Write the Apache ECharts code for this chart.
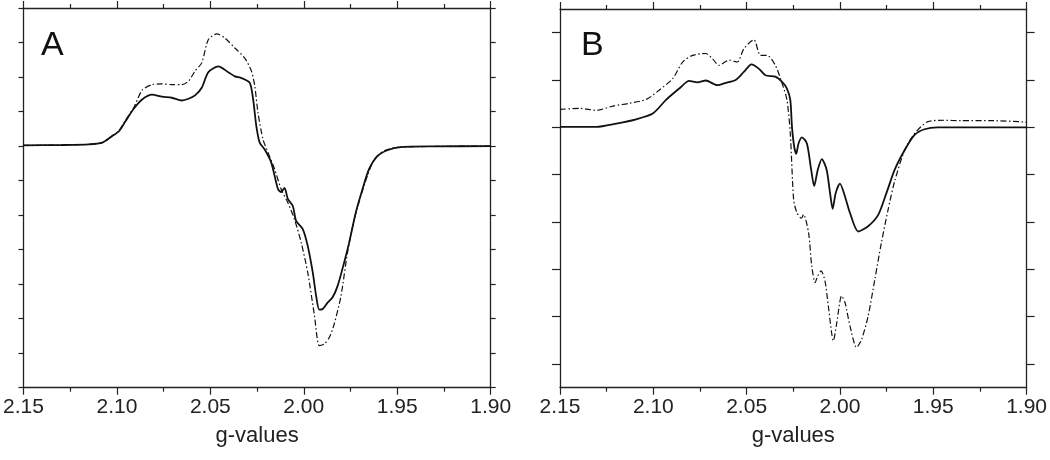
<!DOCTYPE html>
<html>
<head>
<meta charset="utf-8">
<script src="https://cdn.jsdelivr.net/npm/echarts@6/dist/echarts.min.js"></script>
<style>
  html, body { margin: 0; padding: 0; background: #fff; }
  #chart { width: 1050px; height: 460px; }
</style>
</head>
<body>
<div id="chart"></div>
<script>
// ---------- Data (g-value, signal in arbitrary units) ----------
const panelLabels = ['A', 'B'];
const xTickValues = [2.15, 2.10, 2.05, 2.00, 1.95, 1.90];
const xAxisName = 'g-values';

// Panel A, solid trace
const gA1 = [2.15, 2.13, 2.115, 2.1078, 2.1025, 2.0989, 2.0954, 2.091, 2.0865, 2.0812, 2.0759, 2.0706, 2.0652, 2.0617, 2.0582, 2.0546, 2.0511, 2.0457, 2.0404, 2.0369, 2.0333, 2.0289, 2.0271, 2.0254, 2.0236, 2.0209, 2.0174, 2.0138, 2.0121, 2.0103, 2.0085, 2.0059, 2.0041, 2.0005, 1.9979, 1.9952, 1.9934, 1.9917, 1.9899, 1.9872, 1.9846, 1.9819, 1.9784, 1.9757, 1.9722, 1.9686, 1.9651, 1.9606, 1.9553, 1.9482, 1.9305, 1.90];
const vA1 = [0.02, 0.03, 0.05, 0.10, 0.29, 0.43, 0.72, 1.08, 1.35, 1.49, 1.43, 1.40, 1.32, 1.37, 1.47, 1.69, 2.14, 2.31, 2.14, 2.02, 1.97, 1.83, 1.35, 0.58, 0.10, -0.10, -0.48, -1.25, -1.33, -1.21, -1.54, -1.73, -2.17, -2.41, -2.89, -3.66, -4.34, -4.74, -4.72, -4.53, -4.38, -4.05, -3.37, -2.79, -1.93, -1.25, -0.67, -0.29, -0.12, -0.03, -0.01, 0.0];

// Panel A, dash-dot trace
const gA2 = [2.15, 2.13, 2.115, 2.1078, 2.1025, 2.0989, 2.0954, 2.091, 2.0865, 2.0812, 2.0759, 2.0706, 2.0652, 2.0617, 2.0582, 2.0546, 2.0511, 2.0466, 2.0422, 2.0369, 2.0316, 2.028, 2.0262, 2.0245, 2.0218, 2.0191, 2.0156, 2.0121, 2.0085, 2.005, 2.0014, 1.9979, 1.9943, 1.9917, 1.989, 1.9863, 1.9837, 1.9801, 1.9766, 1.973, 1.9695, 1.966, 1.9624, 1.9571, 1.95, 1.93, 1.90];
const vA2 = [0.02, 0.03, 0.05, 0.10, 0.30, 0.45, 0.75, 1.11, 1.62, 1.78, 1.80, 1.78, 1.78, 1.88, 2.17, 2.41, 3.08, 3.25, 3.13, 2.84, 2.55, 2.17, 1.73, 0.96, 0.19, -0.19, -0.67, -1.25, -1.64, -2.12, -2.79, -3.66, -4.91, -5.78, -5.73, -5.54, -5.15, -4.34, -3.08, -2.12, -1.45, -0.87, -0.39, -0.14, -0.04, -0.01, 0.0];

// Panel B, solid trace
const gB1 = [2.15, 2.1305, 2.1198, 2.1092, 2.1003, 2.0932, 2.0861, 2.0808, 2.0763, 2.0719, 2.0657, 2.0612, 2.0559, 2.0515, 2.0474, 2.0435, 2.0399, 2.0346, 2.031, 2.0284, 2.0266, 2.0257, 2.0245, 2.0234, 2.0222, 2.0204, 2.0177, 2.0154, 2.0138, 2.0119, 2.0097, 2.0071, 2.0053, 2.0039, 2.0023, 2.0, 1.9973, 1.9946, 1.9902, 1.9849, 1.9795, 1.9751, 1.9707, 1.9653, 1.96, 1.9547, 1.9476, 1.90];
const vB1 = [0.01, 0.01, 0.08, 0.17, 0.29, 0.58, 0.82, 0.98, 0.95, 0.99, 0.89, 0.94, 1.00, 1.17, 1.33, 1.24, 1.10, 1.07, 0.96, 0.82, 0.58, 0.01, -0.41, -0.56, -0.34, -0.21, -0.34, -0.90, -1.24, -0.90, -0.67, -0.90, -1.39, -1.72, -1.39, -1.19, -1.46, -1.81, -2.20, -2.09, -1.85, -1.39, -0.90, -0.48, -0.16, -0.04, 0.0, 0.0];

// Panel B, dash-dot trace
const gB2 = [2.15, 2.1393, 2.1305, 2.1216, 2.1127, 2.1038, 2.0967, 2.0896, 2.0843, 2.079, 2.0719, 2.0683, 2.0648, 2.0594, 2.055, 2.0515, 2.0461, 2.0426, 2.039, 2.0346, 2.031, 2.0284, 2.0266, 2.0248, 2.023, 2.0207, 2.0195, 2.0168, 2.0151, 2.0133, 2.0119, 2.0101, 2.008, 2.0062, 2.0035, 2.0017, 1.9991, 1.9973, 1.9946, 1.9911, 1.9884, 1.9849, 1.9813, 1.9778, 1.9742, 1.9707, 1.9653, 1.96, 1.9529, 1.944, 1.9352, 1.9174, 1.90];
const vB2 = [0.38, 0.40, 0.36, 0.45, 0.51, 0.59, 0.79, 1.03, 1.38, 1.52, 1.56, 1.45, 1.31, 1.42, 1.38, 1.66, 1.85, 1.52, 1.52, 1.31, 0.93, 0.58, -0.13, -1.53, -1.81, -1.92, -1.84, -2.23, -2.93, -3.28, -3.14, -3.03, -3.25, -3.78, -4.51, -4.13, -3.56, -3.70, -4.20, -4.65, -4.48, -3.99, -3.21, -2.44, -1.74, -1.14, -0.48, -0.13, 0.12, 0.15, 0.14, 0.14, 0.11];

// y ranges and tick positions (arbitrary units)
const yRangeA = [-7, 4];
const yTicksA = [-7, -6, -5, -4, -3, -2, -1, 0, 1, 2, 3, 4];
const yRangeB = [-5.5, 2.5];
const yTicksB = [-5, -4, -3, -2, -1, 0, 1, 2];

// ---------- Chart ----------
const zip = (xs, ys) => xs.map((x, i) => [x, ys[i]]);
const axisColor = '#222';
const lineColor = '#111';
const fontFam = 'Liberation Sans, Arial, sans-serif';

const grids = [
  { left: 20.7, right: 559.3, top: 8, bottom: 72.3 },
  { left: 560, right: 20.7, top: 9, bottom: 72.3 }
];

function xAxes(gi) {
  const base = {
    type: 'value', gridIndex: gi, min: 1.90, max: 2.15, interval: 0.05, inverse: true,
    axisLine: { show: true, onZero: false, lineStyle: { color: axisColor, width: 1.3 } },
    axisTick: { show: true, length: 7, lineStyle: { color: axisColor, width: 1.2 } },
    minorTick: { show: true, splitNumber: 2, length: 4, lineStyle: { color: axisColor, width: 1.2 } },
    splitLine: { show: false }, minorSplitLine: { show: false }
  };
  return [
    Object.assign({}, base, {
      position: 'bottom',
      name: xAxisName, nameLocation: 'middle', nameGap: 37,
      nameTextStyle: { fontSize: 22, color: axisColor, fontFamily: fontFam },
      axisLabel: { show: true, margin: 9, fontSize: 21, color: axisColor, fontFamily: fontFam,
        formatter: v => v.toFixed(2), showMinLabel: true, showMaxLabel: true, hideOverlap: false }
    }),
    Object.assign({}, base, { position: 'top', axisLabel: { show: false } })
  ];
}

function yAxes(gi, range, ticks, len) {
  const base = {
    type: 'value', gridIndex: gi, min: range[0], max: range[1],
    splitNumber: ticks.length - 1,
    axisLine: { show: true, onZero: false, lineStyle: { color: axisColor, width: 1.3 } },
    axisTick: { show: true, length: len, customValues: ticks, lineStyle: { color: axisColor, width: 1.2 } },
    axisLabel: { show: false },
    splitLine: { show: false }
  };
  return [
    Object.assign({}, base, { position: 'left' }),
    Object.assign({}, base, { position: 'right' })
  ];
}

const solidStyle = { color: lineColor, width: 1.8, type: 'solid' };
const dashStyle = { color: lineColor, width: 1.2, type: [6, 2.5, 1.5, 2.5] };

function line(data, xi, yi, style) {
  return {
    type: 'line', xAxisIndex: xi, yAxisIndex: yi, data: data,
    showSymbol: false, symbol: 'none', smooth: 0.25, lineStyle: style,
    animation: false, silent: true, z: 3
  };
}

const chart = echarts.init(document.getElementById('chart'), null, { renderer: 'canvas' });
chart.setOption({
  backgroundColor: '#fff',
  animation: false,
  grid: grids,
  xAxis: [].concat(xAxes(0), xAxes(1)),
  yAxis: [].concat(yAxes(0, yRangeA, yTicksA, 5), yAxes(1, yRangeB, yTicksB, 8)),
  series: [
    line(zip(gA2, vA2), 0, 0, dashStyle),
    line(zip(gA1, vA1), 0, 0, solidStyle),
    line(zip(gB2, vB2), 2, 2, dashStyle),
    line(zip(gB1, vB1), 2, 2, solidStyle)
  ],
  graphic: [
    { type: 'text', left: 41, top: 29, style: { text: panelLabels[0], fontSize: 34, fill: '#111', fontFamily: fontFam } },
    { type: 'text', left: 581, top: 29, style: { text: panelLabels[1], fontSize: 34, fill: '#111', fontFamily: fontFam } }
  ]
});
</script>
</body>
</html>
